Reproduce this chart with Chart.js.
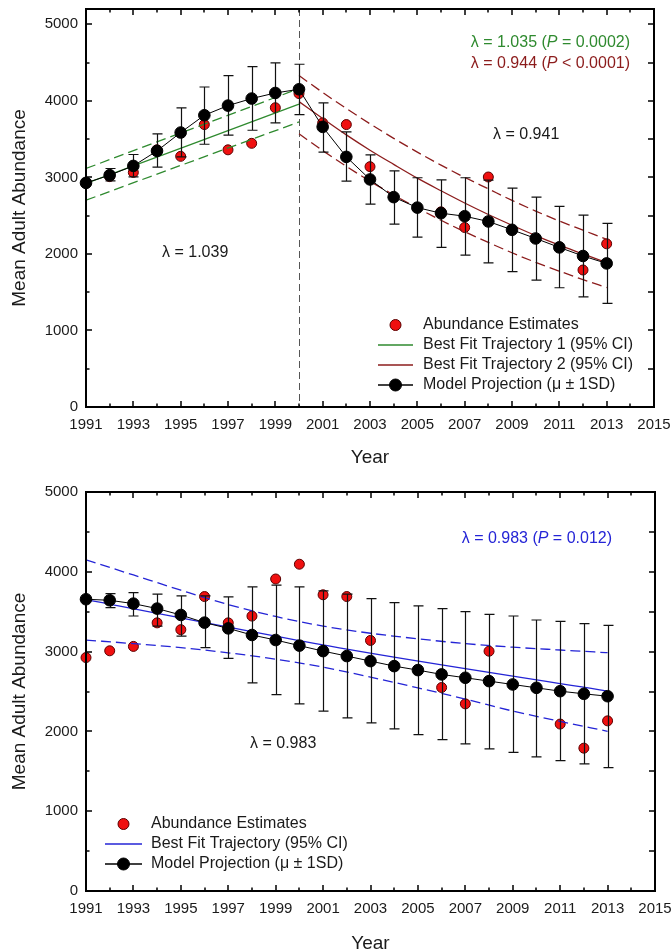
<!DOCTYPE html>
<html>
<head>
<meta charset="utf-8">
<script src="https://cdn.jsdelivr.net/npm/chart.js@4.4.1/dist/chart.umd.min.js"></script>
<style>
  html, body { margin: 0; padding: 0; background: #fff; overflow: hidden; }
  body { width: 672px; height: 951px; position: relative; }
  canvas { position: absolute; left: 0; }
  #chartTop { top: 0; }
  #chartBottom { top: 470px; }
</style>
</head>
<body>
<canvas id="chartTop" width="672" height="470"></canvas>
<canvas id="chartBottom" width="672" height="490"></canvas>
<script>
// axis ticks
const xTicks = [1991, 1993, 1995, 1997, 1999, 2001, 2003, 2005, 2007, 2009, 2011, 2013, 2015];
const yTicks = [0, 1000, 2000, 3000, 4000, 5000];

// years of the model projection
const years = [1991, 1992, 1993, 1994, 1995, 1996, 1997, 1998, 1999, 2000, 2001, 2002,
  2003, 2004, 2005, 2006, 2007, 2008, 2009, 2010, 2011, 2012, 2013];

// abundance estimates (same in both panels)
const estYears = [1991, 1992, 1993, 1994, 1995, 1996, 1997, 1998, 1999, 2000, 2001, 2002,
  2003, 2006, 2007, 2008, 2011, 2012, 2013];
const estValues = [2925, 3010, 3065, 3360, 3275, 3690, 3360, 3445, 3910, 4095, 3712, 3690,
  3140, 2550, 2345, 3005, 2092, 1790, 2132];

// top panel: model projection mean and +/- 1SD
const modelTop = [2928, 3029, 3150, 3346, 3586, 3812, 3938, 4030, 4103, 4151, 3660, 3268,
  2973, 2742, 2605, 2532, 2493, 2424, 2315, 2202, 2085, 1973, 1876];
const sdUpTop = [2928, 3116, 3299, 3568, 3907, 4181, 4330, 4447, 4495, 4478, 3973, 3594,
  3295, 3085, 2995, 2968, 2995, 2965, 2860, 2742, 2620, 2507, 2398];
const sdLowTop = [2928, 2955, 3006, 3133, 3268, 3433, 3551, 3616, 3712, 3821, 3329, 2950,
  2650, 2390, 2220, 2085, 1985, 1884, 1770, 1658, 1558, 1440, 1354];

// top panel: best fit trajectory 1 (1991-2000)
const fit1Years = [1991, 2000];
const fit1 = [2920, 3956];
const fit1Up = [3116, 4160];
const fit1Low = [2702, 3724];

// top panel: best fit trajectory 2 (2000-2013)
const fit2Years = [2000, 2001, 2002, 2003, 2004, 2005, 2006, 2007, 2008, 2009, 2010, 2011, 2012, 2013];
const fit2 = [3990, 3770, 3555, 3355, 3170, 2990, 2825, 2665, 2515, 2375, 2240, 2115, 2000, 1885];
const fit2Up = [4330, 4110, 3900, 3700, 3510, 3330, 3160, 3000, 2850, 2700, 2560, 2430, 2310, 2190];
const fit2Low = [3570, 3350, 3145, 2950, 2770, 2600, 2440, 2290, 2150, 2015, 1890, 1775, 1665, 1560];

// bottom panel: model projection mean and +/- 1SD
const modelBottom = [3656, 3643, 3601, 3539, 3459, 3363, 3291, 3208, 3145, 3075, 3006, 2944,
  2881, 2818, 2768, 2714, 2672, 2630, 2588, 2546, 2504, 2471, 2441];
const sdUpBottom = [3656, 3727, 3740, 3719, 3698, 3698, 3685, 3811, 3832, 3811, 3760, 3720,
  3664, 3614, 3572, 3539, 3501, 3467, 3446, 3396, 3379, 3350, 3329];
const sdLowBottom = [3656, 3551, 3446, 3320, 3195, 3049, 2915, 2609, 2462, 2345, 2253, 2169,
  2106, 2031, 1960, 1897, 1843, 1780, 1738, 1680, 1633, 1592, 1545];

// bottom panel: best fit trajectory with 95% CI
const fitYears = [1991, 2002, 2013];
const fitBottom = [3652, 3030, 2505];
const ciYears = [1991, 1993, 1995, 1997, 1999, 2001, 2003, 2005, 2007, 2009, 2011, 2013];
const ciUp = [4150, 3960, 3770, 3590, 3440, 3320, 3230, 3160, 3100, 3055, 3020, 2986];
const ciLow = [3145, 3100, 3050, 2985, 2905, 2805, 2680, 2545, 2405, 2255, 2125, 2001];

const FONT = "'Liberation Sans', Arial, Helvetica, sans-serif";
Chart.defaults.font.family = FONT;
Chart.defaults.color = '#1a1a1a';

const GREEN = '#2f8a2f';
const DARKRED = '#8c1c1c';
const BLUE = '#2424d6';
const RED = '#f01010';

const pts = (xs, ys) => xs.map((x, i) => ({ x: x, y: ys[i] }));

function lineSet(label, xs, ys, color, dashed, order) {
  return {
    label: label,
    data: pts(xs, ys),
    borderColor: color,
    borderWidth: 1.3,
    borderDash: dashed ? [10, 5] : [],
    pointRadius: 0,
    cubicInterpolationMode: 'monotone',
    fill: false,
    order: order
  };
}

function modelSet(ys) {
  return {
    label: 'Model Projection (\u03bc \u00b1 1SD)',
    data: pts(years, ys),
    borderColor: '#000',
    borderWidth: 1,
    pointRadius: 5.8,
    pointBackgroundColor: '#000',
    pointBorderColor: '#000',
    pointBorderWidth: 1,
    clip: false,
    order: 0
  };
}

function estSet() {
  return {
    label: 'Abundance Estimates',
    data: pts(estYears, estValues),
    showLine: false,
    pointRadius: 5,
    pointBackgroundColor: RED,
    pointBorderColor: '#5a0000',
    pointBorderWidth: 1,
    clip: false,
    order: 5
  };
}

// draws mixed normal/italic text pieces, left or right aligned
function richText(ctx, parts, x, y, color, align) {
  const font = (it) => (it ? 'italic ' : '') + '16px ' + FONT;
  let total = 0;
  parts.forEach(p => { ctx.font = font(p.i); total += ctx.measureText(p.t).width; });
  let cx = align === 'right' ? x - total : x;
  ctx.fillStyle = color;
  ctx.textBaseline = 'middle';
  ctx.textAlign = 'left';
  parts.forEach(p => {
    ctx.font = font(p.i);
    ctx.fillText(p.t, cx, y);
    cx += ctx.measureText(p.t).width;
  });
}

function decorations(cfg) {
  return {
    id: 'decor',
    beforeDatasetsDraw(chart) {
      if (cfg.splitYear == null) return;
      const { ctx, chartArea } = chart;
      const px = Math.round(chart.scales.x.getPixelForValue(cfg.splitYear)) + 0.5;
      ctx.save();
      ctx.strokeStyle = '#555';
      ctx.lineWidth = 1;
      ctx.setLineDash([7, 4]);
      ctx.beginPath();
      ctx.moveTo(px, chartArea.top);
      ctx.lineTo(px, chartArea.bottom);
      ctx.stroke();
      ctx.restore();
    },
    beforeDatasetDraw(chart, args) {
      if (args.index !== 0) return;
      // error bars drawn just under the model projection
      const { ctx } = chart;
      const xs = chart.scales.x, ys = chart.scales.y;
      ctx.save();
      ctx.strokeStyle = '#111';
      ctx.lineWidth = 1.2;
      years.forEach((yr, i) => {
        const hi = cfg.upper[i], lo = cfg.lower[i];
        if (hi === lo) return;
        const px = Math.round(xs.getPixelForValue(yr)) + 0.5;
        const y1 = ys.getPixelForValue(hi), y2 = ys.getPixelForValue(lo);
        ctx.beginPath();
        ctx.moveTo(px, y1); ctx.lineTo(px, y2);
        ctx.moveTo(px - 5, y1); ctx.lineTo(px + 5, y1);
        ctx.moveTo(px - 5, y2); ctx.lineTo(px + 5, y2);
        ctx.stroke();
      });
      ctx.restore();
    },
    afterDraw(chart) {
      const { ctx, chartArea: a } = chart;
      const xs = chart.scales.x, ys = chart.scales.y;
      ctx.save();
      // frame with inward ticks on all sides
      ctx.strokeStyle = '#000';
      ctx.lineWidth = 2;
      ctx.strokeRect(a.left, a.top, a.right - a.left, a.bottom - a.top);
      ctx.lineWidth = 1.5;
      ctx.beginPath();
      for (let yr = xs.min; yr <= xs.max; yr++) {
        const px = Math.round(xs.getPixelForValue(yr));
        const len = (yr - xs.min) % 2 === 0 ? 6 : 3.5;
        ctx.moveTo(px, a.bottom); ctx.lineTo(px, a.bottom - len);
        ctx.moveTo(px, a.top); ctx.lineTo(px, a.top + len);
      }
      for (let v = 0; v <= ys.max; v += 500) {
        const py = Math.round(ys.getPixelForValue(v));
        const len = v % 1000 === 0 ? 6 : 3.5;
        ctx.moveTo(a.left, py); ctx.lineTo(a.left + len, py);
        ctx.moveTo(a.right, py); ctx.lineTo(a.right - 6, py);
      }
      ctx.stroke();

      // annotations
      cfg.notes.forEach(n => richText(ctx, n.parts, n.x, n.y, n.color, n.align));

      // legend
      const lg = cfg.legend;
      lg.rows.forEach((row, i) => {
        const y = lg.y + i * lg.step;
        const mid = (lg.x1 + lg.x2) / 2;
        if (row.line) {
          ctx.strokeStyle = row.line;
          ctx.lineWidth = 1.6;
          ctx.beginPath();
          ctx.moveTo(lg.x1, y); ctx.lineTo(lg.x2, y);
          ctx.stroke();
        }
        if (row.dot) {
          ctx.fillStyle = row.dot;
          ctx.strokeStyle = row.dotBorder;
          ctx.lineWidth = 1;
          ctx.beginPath();
          ctx.arc(mid, y, row.r, 0, Math.PI * 2);
          ctx.fill();
          ctx.stroke();
        }
        ctx.fillStyle = '#1a1a1a';
        ctx.font = '16px ' + FONT;
        ctx.textBaseline = 'middle';
        ctx.textAlign = 'left';
        ctx.fillText(row.text, lg.textX, y);
      });
      ctx.restore();
    }
  };
}

function scalesFor(ymax, xHeight, xTitlePad) {
  return {
    x: {
      type: 'linear',
      min: 1991,
      max: 2015,
      grid: { display: false, drawTicks: false },
      border: { display: false },
      afterBuildTicks: s => { s.ticks = xTicks.map(v => ({ value: v })); },
      afterFit: s => { s.height = xHeight; s.paddingLeft = 0; s.paddingRight = 0; },
      ticks: {
        autoSkip: false,
        maxRotation: 0,
        padding: 9,
        color: '#1a1a1a',
        font: { size: 15 },
        callback: v => String(v)
      },
      title: {
        display: true,
        text: 'Year',
        color: '#1a1a1a',
        font: { size: 19 },
        padding: { top: 0, bottom: xTitlePad }
      }
    },
    y: {
      type: 'linear',
      min: 0,
      max: ymax,
      grid: { display: false, drawTicks: false },
      border: { display: false },
      afterBuildTicks: s => { s.ticks = yTicks.map(v => ({ value: v })); },
      afterFit: s => { s.width = 86; s.paddingTop = 0; s.paddingBottom = 0; },
      ticks: {
        padding: 8,
        color: '#1a1a1a',
        font: { size: 15 },
        callback: v => String(v)
      },
      title: {
        display: true,
        text: 'Mean Adult Abundance',
        color: '#1a1a1a',
        font: { size: 19 },
        padding: { top: 8, bottom: 0 }
      }
    }
  };
}

const baseOptions = {
  responsive: false,
  animation: false,
  devicePixelRatio: 1,
  plugins: { legend: { display: false }, tooltip: { enabled: false } }
};

// top panel
new Chart(document.getElementById('chartTop'), {
  type: 'line',
  data: {
    datasets: [
      modelSet(modelTop),
      lineSet('Best Fit Trajectory 2 (95% CI)', fit2Years, fit2, DARKRED, false, 2),
      lineSet('Trajectory 2 upper', fit2Years, fit2Up, DARKRED, true, 2),
      lineSet('Trajectory 2 lower', fit2Years, fit2Low, DARKRED, true, 2),
      lineSet('Best Fit Trajectory 1 (95% CI)', fit1Years, fit1, GREEN, false, 3),
      lineSet('Trajectory 1 upper', fit1Years, fit1Up, GREEN, true, 3),
      lineSet('Trajectory 1 lower', fit1Years, fit1Low, GREEN, true, 3),
      estSet()
    ]
  },
  options: Object.assign({}, baseOptions, {
    layout: { padding: { top: 9, right: 18, left: 0, bottom: 0 } },
    scales: scalesFor(5200, 63, 1)
  }),
  plugins: [decorations({
    splitYear: 2000,
    upper: sdUpTop,
    lower: sdLowTop,
    notes: [
      { parts: [{ t: '\u03bb = 1.039' }], x: 162, y: 253, color: '#1a1a1a' },
      { parts: [{ t: '\u03bb = 0.941' }], x: 493, y: 135, color: '#1a1a1a' },
      { parts: [{ t: '\u03bb = 1.035 (' }, { t: 'P', i: true }, { t: ' = 0.0002)' }], x: 630, y: 43, color: GREEN, align: 'right' },
      { parts: [{ t: '\u03bb = 0.944 (' }, { t: 'P', i: true }, { t: ' < 0.0001)' }], x: 630, y: 63.5, color: DARKRED, align: 'right' }
    ],
    legend: {
      x1: 378, x2: 413, textX: 423, y: 325, step: 20,
      rows: [
        { text: 'Abundance Estimates', dot: RED, dotBorder: '#5a0000', r: 5.5 },
        { text: 'Best Fit Trajectory 1 (95% CI)', line: GREEN },
        { text: 'Best Fit Trajectory 2 (95% CI)', line: DARKRED },
        { text: 'Model Projection (\u03bc \u00b1 1SD)', line: '#000', dot: '#000', dotBorder: '#000', r: 6 }
      ]
    }
  })]
});

// bottom panel
new Chart(document.getElementById('chartBottom'), {
  type: 'line',
  data: {
    datasets: [
      modelSet(modelBottom),
      lineSet('Best Fit Trajectory (95% CI)', fitYears, fitBottom, BLUE, false, 2),
      lineSet('Trajectory upper', ciYears, ciUp, BLUE, true, 2),
      lineSet('Trajectory lower', ciYears, ciLow, BLUE, true, 2),
      estSet()
    ]
  },
  options: Object.assign({}, baseOptions, {
    layout: { padding: { top: 22, right: 17, left: 0, bottom: 0 } },
    scales: scalesFor(5000, 69, 5)
  }),
  plugins: [decorations({
    splitYear: null,
    upper: sdUpBottom,
    lower: sdLowBottom,
    notes: [
      { parts: [{ t: '\u03bb = 0.983 (' }, { t: 'P', i: true }, { t: ' = 0.012)' }], x: 612, y: 68.5, color: BLUE, align: 'right' },
      { parts: [{ t: '\u03bb = 0.983' }], x: 250, y: 273.5, color: '#1a1a1a' }
    ],
    legend: {
      x1: 105, x2: 142, textX: 151, y: 354, step: 20,
      rows: [
        { text: 'Abundance Estimates', dot: RED, dotBorder: '#5a0000', r: 5.5 },
        { text: 'Best Fit Trajectory (95% CI)', line: BLUE },
        { text: 'Model Projection (\u03bc \u00b1 1SD)', line: '#000', dot: '#000', dotBorder: '#000', r: 6 }
      ]
    }
  })]
});
</script>
</body>
</html>
